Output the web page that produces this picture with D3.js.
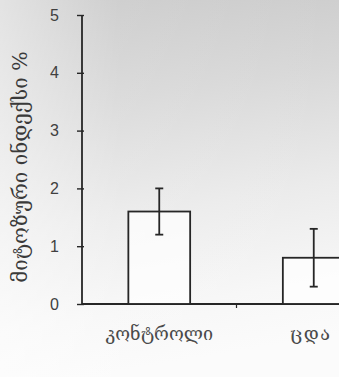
<!DOCTYPE html>
<html>
<head>
<meta charset="utf-8">
<script src="https://cdn.jsdelivr.net/npm/d3@7"></script>
<style>
  html, body { margin: 0; padding: 0; background: #ffffff; overflow: hidden; }
  svg { display: block; }
</style>
</head>
<body>
<svg id="chart" width="339" height="377"></svg>
<script>
// Mitotic index, mean ± error, per group
const categories = ["კონტროლი", "ცდა"];
const means = [1.6, 0.8];
const errUpper = [2.0, 1.3];
const errLower = [1.2, 0.3];
const yTicks = [0, 1, 2, 3, 4, 5];
const yLabel = "მიტოზური ინდექსი %";

const W = 339, H = 377;
const svg = d3.select("#chart");

// paper-like shaded background
const defs = svg.append("defs");
const g1 = defs.append("linearGradient").attr("id", "bg")
  .attr("x1", "0.1").attr("y1", "0").attr("x2", "0.25").attr("y2", "1");
g1.append("stop").attr("offset", "0").attr("stop-color", "#c8c8c8");
g1.append("stop").attr("offset", "0.3").attr("stop-color", "#d8d8d8");
g1.append("stop").attr("offset", "0.6").attr("stop-color", "#ebebeb");
g1.append("stop").attr("offset", "0.85").attr("stop-color", "#f7f7f7");
g1.append("stop").attr("offset", "1").attr("stop-color", "#fbfbfb");
svg.append("rect").attr("width", W).attr("height", H).attr("fill", "url(#bg)");
const g2 = defs.append("linearGradient").attr("id", "leftlight")
  .attr("x1", "0").attr("y1", "0").attr("x2", "1").attr("y2", "0");
g2.append("stop").attr("offset", "0").attr("stop-color", "#ffffff").attr("stop-opacity", 0.5);
g2.append("stop").attr("offset", "0.35").attr("stop-color", "#ffffff").attr("stop-opacity", 0.1);
g2.append("stop").attr("offset", "1").attr("stop-color", "#ffffff").attr("stop-opacity", 0.0);
svg.append("rect").attr("width", W).attr("height", H).attr("fill", "url(#leftlight)");

const x0 = 82, y0 = 304, yTop = 15;
const y = d3.scaleLinear().domain([0, 5]).range([y0, yTop]);
const x = d3.scaleBand().domain(categories).range([x0, 391]).paddingInner(0.6).paddingOuter(0.3);

const ink = "#262626";

// x axis line with boundary tick between groups
svg.append("line").attr("x1", x0).attr("x2", W).attr("y1", y0).attr("y2", y0)
  .attr("stroke", ink).attr("stroke-width", 1.8);
const boundary = (x(categories[0]) + x.bandwidth() / 2 + x(categories[1]) + x.bandwidth() / 2) / 2;
svg.append("line").attr("x1", boundary).attr("x2", boundary).attr("y1", y0).attr("y2", y0 + 4)
  .attr("stroke", ink).attr("stroke-width", 1.2);

// y axis
const yAxis = d3.axisLeft(y).tickValues(yTicks).tickSize(5).tickPadding(18).tickFormat(d3.format("d"));
const ga = svg.append("g").attr("transform", `translate(${x0},0)`).call(yAxis);
ga.select(".domain").attr("stroke", ink).attr("stroke-width", 1.8).attr("d", `M0,${y0}V${yTop}`);
ga.selectAll(".tick line").attr("stroke", ink).attr("stroke-width", 1.4).attr("x1", 2);
ga.selectAll(".tick text").attr("fill", "#404040")
  .style("font-family", "'Liberation Sans', Arial, sans-serif").style("font-size", "16px");

// bars
svg.selectAll("rect.bar").data(categories).join("rect").attr("class", "bar")
  .attr("x", d => x(d)).attr("width", x.bandwidth())
  .attr("y", (d, i) => y(means[i])).attr("height", (d, i) => y0 - y(means[i]))
  .attr("fill", "#ffffff").attr("fill-opacity", 0.7)
  .attr("stroke", ink).attr("stroke-width", 1.8);

// error bars
const cx = d => x(d) + x.bandwidth() / 2;
const eb = svg.selectAll("g.err").data(categories).join("g").attr("class", "err");
eb.append("line").attr("x1", cx).attr("x2", cx)
  .attr("y1", (d, i) => y(errUpper[i])).attr("y2", (d, i) => y(errLower[i]))
  .attr("stroke", ink).attr("stroke-width", 1.8);
eb.append("line").attr("x1", d => cx(d) - 4).attr("x2", d => cx(d) + 4)
  .attr("y1", (d, i) => y(errUpper[i])).attr("y2", (d, i) => y(errUpper[i]))
  .attr("stroke", ink).attr("stroke-width", 1.8);
eb.append("line").attr("x1", d => cx(d) - 4).attr("x2", d => cx(d) + 4)
  .attr("y1", (d, i) => y(errLower[i])).attr("y2", (d, i) => y(errLower[i]))
  .attr("stroke", ink).attr("stroke-width", 1.8);

// category labels
svg.selectAll("text.cat").data(categories).join("text").attr("class", "cat")
  .attr("x", (d, i) => cx(d) - (i === 1 ? 3 : 0)).attr("y", 340).attr("text-anchor", "middle")
  .attr("fill", "#4a4a4a")
  .style("font-family", "'DejaVu Serif', 'DejaVu Sans', serif").style("font-size", "18px")
  .style("letter-spacing", (d, i) => i === 1 ? "1.5px" : "0px")
  .text(d => d);

// y axis title
svg.append("text")
  .attr("transform", `translate(27,167) rotate(-90)`)
  .attr("text-anchor", "middle").attr("fill", "#3a3a3a")
  .style("font-family", "'DejaVu Serif', 'DejaVu Sans', serif").style("font-size", "20.5px")
  .text(yLabel);
</script>
</body>
</html>
